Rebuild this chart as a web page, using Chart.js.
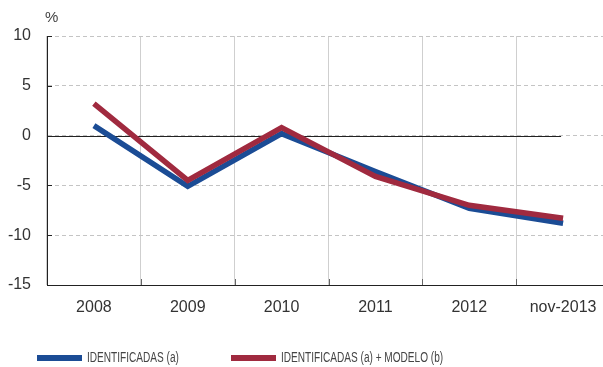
<!DOCTYPE html>
<html>
<head>
<meta charset="utf-8">
<script src="https://cdn.jsdelivr.net/npm/chart.js@4.4.1/dist/chart.umd.min.js"></script>
<style>
  html, body { margin: 0; padding: 0; background: #fff; overflow: hidden; }
  #wrap { position: absolute; left: 0; top: 0; width: 610px; height: 367px; }
</style>
</head>
<body>
<div id="wrap"><canvas id="grafico"></canvas></div>
<script>
// Categorías (años) y series en %
const anios = ["2008", "2009", "2010", "2011", "2012", "nov-2013"];
const identificadas = [1.0, -5.1, 0.2, -3.6, -7.3, -8.8];
const identificadasModelo = [3.2, -4.5, 0.8, -4.1, -7.0, -8.3];
const ticksY = [-15, -10, -5, 0, 5, 10];

const AZUL = "#1b4c95";
const ROJO = "#a02a3f";

// Línea del cero, marcas interiores de los ejes, "%" y leyenda
const extras = {
    id: "extras",
    beforeDatasetsDraw(chart) {
        const { ctx, chartArea, scales } = chart;
        const x = scales.x, y = scales.y;
        ctx.save();
        // línea del cero hasta la última categoría
        ctx.strokeStyle = "#222";
        ctx.lineWidth = 1;
        const y0 = Math.round(y.getPixelForValue(0)) + 0.5;
        ctx.beginPath();
        ctx.moveTo(chartArea.left, y0);
        ctx.lineTo(x.getPixelForValue(anios.length - 1) - 2, y0);
        ctx.stroke();
        // marcas del eje Y
        ticksY.forEach(v => {
            const py = Math.round(y.getPixelForValue(v)) + 0.5;
            ctx.beginPath();
            ctx.moveTo(chartArea.left, py);
            ctx.lineTo(chartArea.left + 5, py);
            ctx.stroke();
        });
        // marcas del eje X
        ctx.strokeStyle = "#666";
        for (let i = 1; i < anios.length; i++) {
            const px = Math.round((x.getPixelForValue(i - 1) + x.getPixelForValue(i)) / 2) + 0.5;
            ctx.beginPath();
            ctx.moveTo(px, chartArea.bottom);
            ctx.lineTo(px, chartArea.bottom - 6);
            ctx.stroke();
        }
        ctx.restore();
    },
    afterDraw(chart) {
        const { ctx, chartArea } = chart;
        ctx.save();
        ctx.fillStyle = "#444";
        ctx.font = "15px 'Liberation Sans', Arial, sans-serif";
        ctx.textAlign = "left";
        ctx.textBaseline = "middle";
        ctx.fillText("%", chartArea.left - 2, 18);

        // leyenda (texto estrechado horizontalmente)
        const items = [{ x: 37 }, { x: 231 }];
        ctx.font = "14px 'Liberation Sans', Arial, sans-serif";
        chart.data.datasets.forEach((ds, i) => {
            const lx = items[i].x, ly = 358;
            ctx.fillStyle = ds.borderColor;
            ctx.fillRect(lx, ly - 3, 45, 6);
            ctx.fillStyle = "#444";
            ctx.save();
            ctx.translate(lx + 50, ly);
            ctx.scale(0.72, 1);
            ctx.fillText(ds.label, 0, 0);
            ctx.restore();
        });
        ctx.restore();
    }
};

new Chart(document.getElementById("grafico"), {
    type: "line",
    data: {
        labels: anios,
        datasets: [
            {
                label: "IDENTIFICADAS (a)",
                data: identificadas,
                borderColor: AZUL,
                backgroundColor: AZUL,
                borderWidth: 5.5,
                pointRadius: 0,
                tension: 0,
                order: 2
            },
            {
                label: "IDENTIFICADAS (a) + MODELO (b)",
                data: identificadasModelo,
                borderColor: ROJO,
                backgroundColor: ROJO,
                borderWidth: 5.5,
                pointRadius: 0,
                tension: 0,
                order: 1
            }
        ]
    },
    options: {
        responsive: true,
        maintainAspectRatio: false,
        animation: false,
        layout: { padding: { top: 36, left: 0, right: 0, bottom: 0 } },
        plugins: {
            legend: { display: false },
            tooltip: { enabled: false }
        },
        scales: {
            x: {
                offset: true,
                afterFit: s => { s.height = 82; },
                grid: { offset: true, color: "#cfcfcf", lineWidth: 1, drawTicks: false },
                border: { color: "#222", width: 1 },
                ticks: {
                    color: "#333",
                    padding: 13,
                    maxRotation: 0,
                    font: { family: "'Liberation Sans', Arial, sans-serif", size: 16 }
                }
            },
            y: {
                min: -15,
                max: 10,
                afterFit: s => { s.width = 47; },
                afterBuildTicks: s => { s.ticks = ticksY.map(v => ({ value: v })); },
                grid: { color: "#c4c4c4", lineWidth: 1, drawTicks: false },
                border: { color: "#222", width: 1, dash: [4, 3] },
                ticks: {
                    color: "#333",
                    padding: 16,
                    font: { family: "'Liberation Sans', Arial, sans-serif", size: 16 }
                }
            }
        }
    },
    plugins: [extras]
});
</script>
</body>
</html>
